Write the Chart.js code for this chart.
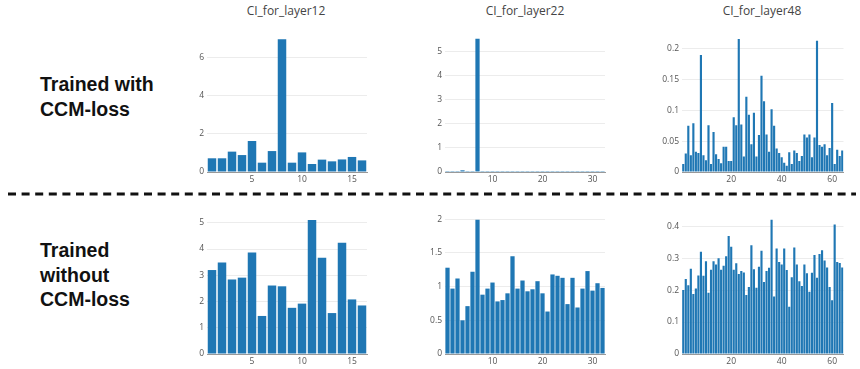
<!DOCTYPE html>
<html>
<head>
<meta charset="utf-8">
<script src="https://cdn.jsdelivr.net/npm/chart.js@4.4.1/dist/chart.umd.min.js"></script>
<style>
  body { margin: 0; width: 860px; height: 369px; background: #fff; position: relative; overflow: hidden; font-family: "Open Sans", sans-serif; }
  .panel { position: absolute; }
  .col-title { position: absolute; width: 200px; margin-left: -100px; text-align: center; font-size: 12px; color: #444; }
  .row-label { position: absolute; left: 40px; font-family: "Liberation Sans", Arial, sans-serif; font-weight: bold; font-size: 19.5px; line-height: 24.5px; color: #111; }
  svg { position: absolute; left: 0; }
</style>
</head>
<body>

<div class="col-title" style="left:286px; top:2px;">CI_for_layer12</div>
<div class="col-title" style="left:525px; top:2px;">CI_for_layer22</div>
<div class="col-title" style="left:762px; top:2px;">CI_for_layer48</div>

<div class="row-label" style="top:72px;">Trained with<br>CCM-loss</div>
<div class="row-label" style="top:238px;">Trained<br>without<br>CCM-loss</div>

<svg width="860" height="12" style="top:188px;">
  <line x1="8" y1="6" x2="856" y2="6" stroke="#111" stroke-width="3" stroke-dasharray="8 5.6"></line>
</svg>

<div class="panel" id="p0"><canvas id="c0"></canvas></div>
<div class="panel" id="p1"><canvas id="c1"></canvas></div>
<div class="panel" id="p2"><canvas id="c2"></canvas></div>
<div class="panel" id="p3"><canvas id="c3"></canvas></div>
<div class="panel" id="p4"><canvas id="c4"></canvas></div>
<div class="panel" id="p5"><canvas id="c5"></canvas></div>

<script>
// --- data ---
// top row: trained with CCM-loss
const ccmLayer12 = [0.72, 0.72, 1.07, 0.89, 1.63, 0.49, 1.10, 6.98, 0.49, 1.03, 0.42, 0.65, 0.56, 0.66, 0.79, 0.61];
const ccmLayer22 = [0.005, 0.005, 0.005, 0.07, 0.005, 0.005, 5.52, 0.005, 0.005, 0.005, 0.005, 0.005, 0.005, 0.005, 0.005, 0.005,
                    0.005, 0.005, 0.005, 0.005, 0.005, 0.005, 0.005, 0.005, 0.005, 0.005, 0.005, 0.005, 0.005, 0.005, 0.005, 0.005];
const ccmLayer48 = [0.013, 0.030, 0.075, 0.027, 0.079, 0.033, 0.031, 0.190, 0.027, 0.019, 0.076, 0.013, 0.065, 0.029, 0.021, 0.014,
                    0.041, 0.041, 0.018, 0.018, 0.089, 0.076, 0.216, 0.077, 0.025, 0.122, 0.093, 0.045, 0.096, 0.025, 0.060, 0.156,
                    0.115, 0.061, 0.033, 0.102, 0.075, 0.038, 0.031, 0.024, 0.015, 0.010, 0.032, 0.013, 0.035, 0.031, 0.018, 0.026,
                    0.061, 0.056, 0.061, 0.024, 0.056, 0.213, 0.044, 0.041, 0.045, 0.027, 0.039, 0.112, 0.013, 0.036, 0.026, 0.035];

// bottom row: trained without CCM-loss
const baseLayer12 = [3.20, 3.49, 2.84, 2.91, 3.87, 1.45, 2.61, 2.58, 1.76, 1.92, 5.11, 3.67, 1.56, 4.24, 2.08, 1.85];
const baseLayer22 = [1.28, 0.97, 1.12, 0.50, 0.71, 1.22, 1.99, 0.88, 0.97, 1.06, 0.78, 0.80, 0.90, 1.45, 0.97, 1.09,
                     0.93, 0.96, 1.08, 0.90, 0.63, 1.18, 1.16, 1.13, 0.74, 1.13, 0.69, 0.97, 1.23, 0.94, 1.05, 0.98];
const baseLayer48 = [0.200, 0.235, 0.215, 0.267, 0.188, 0.205, 0.246, 0.320, 0.245, 0.290, 0.192, 0.264, 0.290, 0.280, 0.300, 0.264,
                     0.276, 0.306, 0.369, 0.336, 0.264, 0.284, 0.250, 0.260, 0.255, 0.185, 0.210, 0.340, 0.265, 0.207, 0.273, 0.323,
                     0.225, 0.260, 0.270, 0.420, 0.180, 0.330, 0.288, 0.280, 0.330, 0.263, 0.148, 0.240, 0.333, 0.280, 0.228, 0.213,
                     0.280, 0.253, 0.195, 0.254, 0.310, 0.239, 0.313, 0.325, 0.293, 0.271, 0.210, 0.168, 0.405, 0.288, 0.285, 0.271];

// tick labels
const xTicks12 = [5, 10, 15];
const xTicks22 = [10, 20, 30];
const xTicks48 = [20, 40, 60];
const yTicksCcm12 = [0, 2, 4, 6];
const yTicksCcm22 = [0, 1, 2, 3, 4, 5];
const yTicksCcm48 = [0, 0.05, 0.1, 0.15, 0.2];
const yTicksBase12 = [0, 1, 2, 3, 4, 5];
const yTicksBase22 = [0, 0.5, 1, 1.5, 2];
const yTicksBase48 = [0, 0.1, 0.2, 0.3, 0.4];

// axis tops (plotly-style autorange, ~5% above the tallest bar)
const yMaxCcm = [7.35, 5.8, 0.227];
const yMaxBase = [5.37, 2.09, 0.441];

// --- layout of the six plot areas ---
const colLeft = [206.5, 444.5, 681.5];
const colWidth = [160, 160, 161.5];
const rowTop = [32.3, 213];
const rowHeight = [140, 141];
const AXIS_W = 40, AXIS_H = 16, PAD_T = 8, PAD_R = 4;

const panels = [
  { values: ccmLayer12, xTicks: xTicks12, yTicks: yTicksCcm12, yMax: yMaxCcm[0], row: 0, col: 0 },
  { values: ccmLayer22, xTicks: xTicks22, yTicks: yTicksCcm22, yMax: yMaxCcm[1], row: 0, col: 1 },
  { values: ccmLayer48, xTicks: xTicks48, yTicks: yTicksCcm48, yMax: yMaxCcm[2], row: 0, col: 2 },
  { values: baseLayer12, xTicks: xTicks12, yTicks: yTicksBase12, yMax: yMaxBase[0], row: 1, col: 0 },
  { values: baseLayer22, xTicks: xTicks22, yTicks: yTicksBase22, yMax: yMaxBase[1], row: 1, col: 1 },
  { values: baseLayer48, xTicks: xTicks48, yTicks: yTicksBase48, yMax: yMaxBase[2], row: 1, col: 2 }
];

const tickFont = { family: '"Open Sans", sans-serif', size: 8.5 };

panels.forEach((p, i) => {
  const box = document.getElementById('p' + i);
  box.style.left = (colLeft[p.col] - AXIS_W) + 'px';
  box.style.top = (rowTop[p.row] - PAD_T) + 'px';
  box.style.width = (colWidth[p.col] + AXIS_W + PAD_R) + 'px';
  box.style.height = (rowHeight[p.row] + PAD_T + AXIS_H) + 'px';

  const n = p.values.length;
  new Chart(document.getElementById('c' + i), {
    type: 'bar',
    data: {
      datasets: [{
        data: p.values.map((v, k) => ({ x: k + 1, y: v })),
        backgroundColor: '#1f77b4',
        barPercentage: 0.85,
        categoryPercentage: 1.0
      }]
    },
    options: {
      responsive: true,
      maintainAspectRatio: false,
      animation: false,
      layout: { padding: { top: PAD_T, right: PAD_R, left: 0, bottom: 0 } },
      plugins: { legend: { display: false }, tooltip: { enabled: false } },
      scales: {
        x: {
          type: 'linear',
          min: 0.5,
          max: n + 0.5,
          offset: false,
          grid: { display: false, drawTicks: false, offset: false },
          border: { display: true, color: '#999', width: 1 },
          ticks: { font: tickFont, color: '#555', padding: 2, maxRotation: 0 },
          afterBuildTicks: s => { s.ticks = p.xTicks.map(v => ({ value: v })); },
          afterFit: s => { s.height = AXIS_H; }
        },
        y: {
          min: 0,
          max: p.yMax,
          grid: { color: '#ececec', drawTicks: false },
          border: { display: false },
          ticks: { font: tickFont, color: '#555', padding: 3, callback: v => String(v) },
          afterBuildTicks: s => { s.ticks = p.yTicks.map(v => ({ value: v })); },
          afterFit: s => { s.width = AXIS_W; }
        }
      }
    }
  });
});
</script>
</body>
</html>
